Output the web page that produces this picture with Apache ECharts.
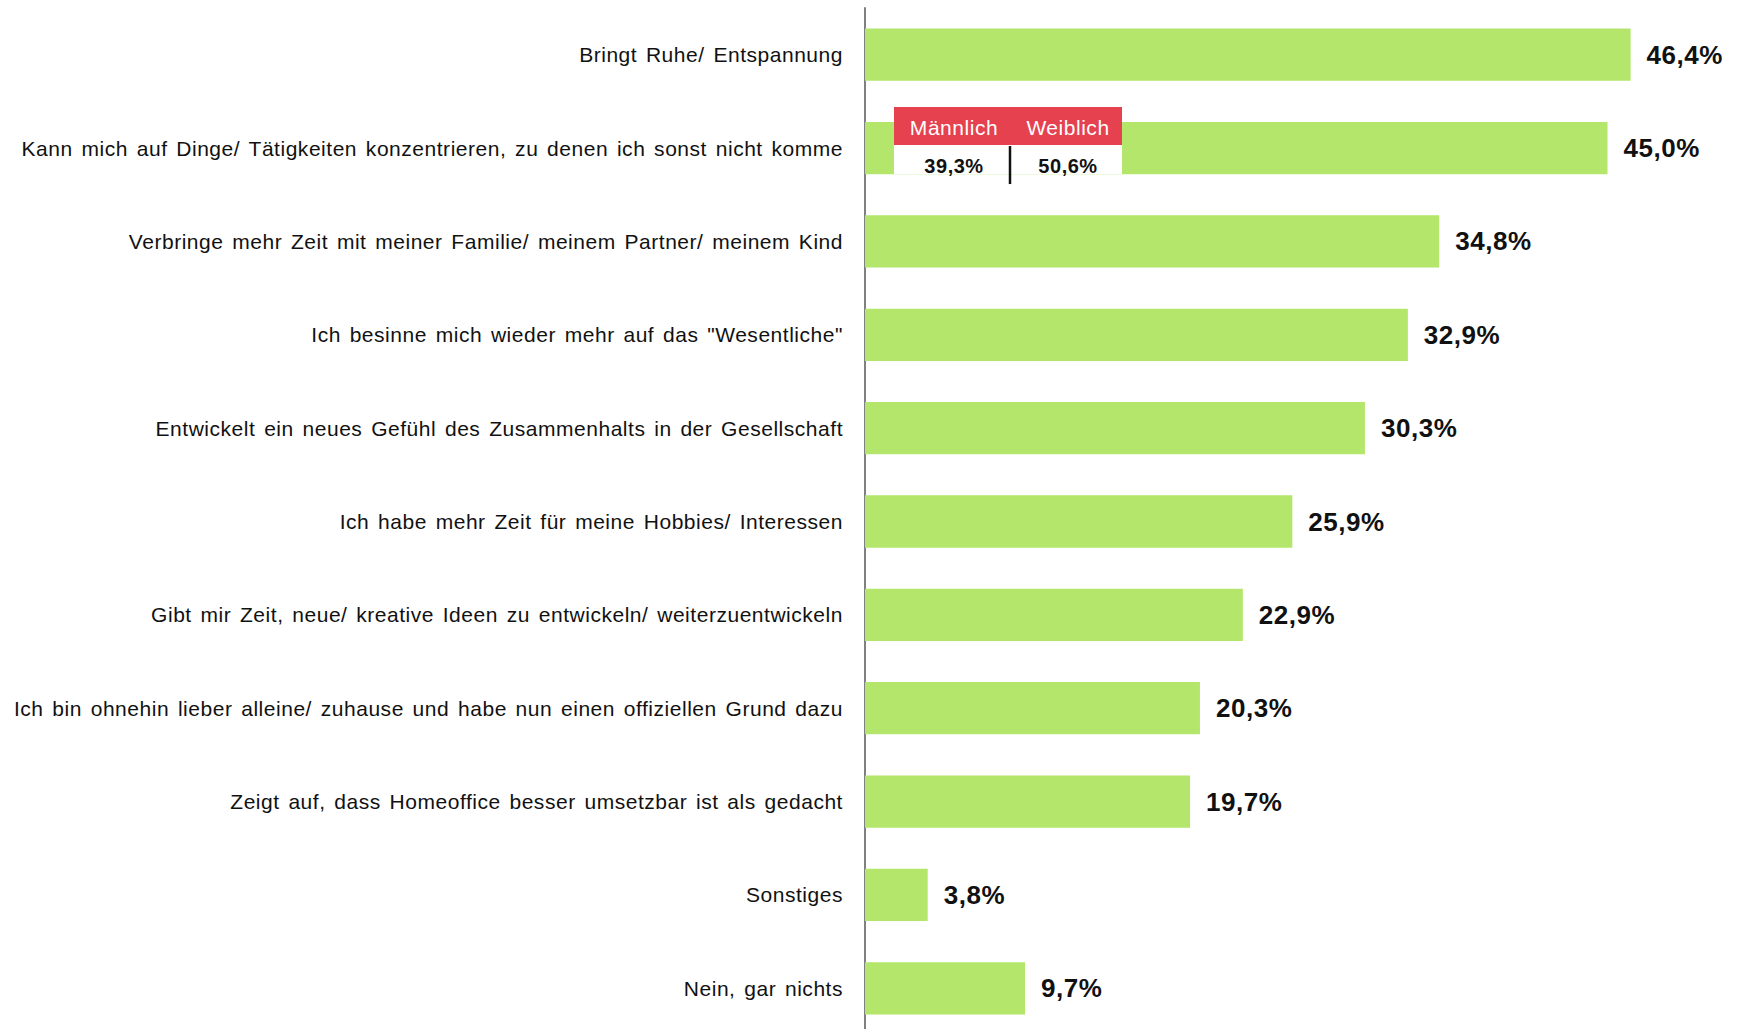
<!DOCTYPE html>
<html>
<head>
<meta charset="utf-8">
<script src="https://cdn.jsdelivr.net/npm/echarts@6/dist/echarts.min.js"></script>
<style>
html,body{margin:0;padding:0;background:#fff;}
#chart{width:1744px;height:1029px;}
#chart svg text{letter-spacing:0.53px;word-spacing:2.4px;}
</style>
</head>
<body>
<div id="chart"></div>
<script>
var categories = [
  'Bringt Ruhe/ Entspannung',
  'Kann mich auf Dinge/ Tätigkeiten konzentrieren, zu denen ich sonst nicht komme',
  'Verbringe mehr Zeit mit meiner Familie/ meinem Partner/ meinem Kind',
  'Ich besinne mich wieder mehr auf das "Wesentliche"',
  'Entwickelt ein neues Gefühl des Zusammenhalts in der Gesellschaft',
  'Ich habe mehr Zeit für meine Hobbies/ Interessen',
  'Gibt mir Zeit, neue/ kreative Ideen zu entwickeln/ weiterzuentwickeln',
  'Ich bin ohnehin lieber alleine/ zuhause und habe nun einen offiziellen Grund dazu',
  'Zeigt auf, dass Homeoffice besser umsetzbar ist als gedacht',
  'Sonstiges',
  'Nein, gar nichts'
];
var values = [46.4, 45.0, 34.8, 32.9, 30.3, 25.9, 22.9, 20.3, 19.7, 3.8, 9.7];
var genderLabels = ['Männlich', 'Weiblich'];
var genderValues = [39.3, 50.6];
var annotatedIndex = 1;

function fmt(v){ return v.toFixed(1).replace('.', ',') + '%'; }

var chart = echarts.init(document.getElementById('chart'), null, {renderer: 'svg'});
chart.setOption({
  animation: false,
  grid: {left: 865, top: 8, width: 825, height: 1027, containLabel: false, outerBoundsMode: 'none'},
  xAxis: {type: 'value', min: 0, max: 50, show: false},
  yAxis: {
    type: 'category', data: categories, inverse: true,
    axisLine: {show: true, lineStyle: {color: '#808080', width: 2}},
    axisTick: {show: false},
    axisLabel: {margin: 22, fontFamily: 'Liberation Sans', fontSize: 21, color: '#111'}
  },
  series: [{
    type: 'bar', data: values, barWidth: '56%', barCategoryGap: '44%',
    itemStyle: {color: '#B3E66B'},
    label: {
      show: true, position: 'right', distance: 16,
      fontFamily: 'Liberation Sans', fontWeight: 'bold', fontSize: 26, color: '#111',
      formatter: function(p){ return fmt(p.value); }
    }
  }]
});

// overlay annotation for the gender split
var cy = chart.convertToPixel({yAxisIndex: 0}, categories[annotatedIndex]);
var x0 = chart.convertToPixel({xAxisIndex: 0}, 0) + 29;
var w = 228;
chart.setOption({
  graphic: [
    {type: 'rect', shape: {x: x0, y: cy - 41, width: w, height: 38}, style: {fill: '#E5414F'}, z: 10},
    {type: 'rect', shape: {x: x0, y: cy - 3, width: w, height: 29}, style: {fill: '#ffffff'}, z: 10},
    {type: 'line', shape: {x1: x0 + 116, y1: cy - 2, x2: x0 + 116, y2: cy + 36}, style: {stroke: '#111', lineWidth: 2.5}, z: 11},
    {type: 'text', x: x0 + 60, y: cy - 21, style: {text: genderLabels[0], fill: '#fff', font: '21px "Liberation Sans"', textAlign: 'center', textVerticalAlign: 'middle'}, z: 11},
    {type: 'text', x: x0 + 174, y: cy - 21, style: {text: genderLabels[1], fill: '#fff', font: '21px "Liberation Sans"', textAlign: 'center', textVerticalAlign: 'middle'}, z: 11},
    {type: 'text', x: x0 + 60, y: cy + 18, style: {text: fmt(genderValues[0]), fill: '#111', font: 'bold 20px "Liberation Sans"', textAlign: 'center', textVerticalAlign: 'middle'}, z: 11},
    {type: 'text', x: x0 + 174, y: cy + 18, style: {text: fmt(genderValues[1]), fill: '#111', font: 'bold 20px "Liberation Sans"', textAlign: 'center', textVerticalAlign: 'middle'}, z: 11}
  ]
});
</script>
</body>
</html>
